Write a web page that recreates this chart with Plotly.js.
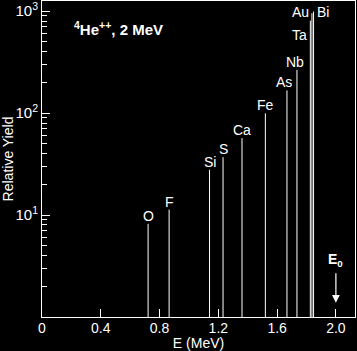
<!DOCTYPE html>
<html>
<head>
<meta charset="utf-8">
<script src="https://cdn.plot.ly/plotly-3.0.1.min.js"></script>
<style>
html,body{margin:0;padding:0;background:#000;}
#chart{width:357px;height:351px;}
</style>
</head>
<body>
<div id="chart"></div>
<script>
// Data
const elements = ["O","F","Si","S","Ca","Fe","As","Nb","Ta","Au","Bi"];
const energies = [0.722,0.865,1.140,1.232,1.361,1.520,1.667,1.735,1.826,1.837,1.848];
const yields   = [8.2,11.3,27.8,37,56.9,99.5,167,266,809,956,991];
const xTickVals = [0,0.4,0.8,1.2,1.6,2.0];
const xTickText = ["0","0.4","0.8","1.2","1.6","2.0"];
const yTickVals = [10,100,1000];
const yTickText = ["10<sup>1</sup>","10<sup>2</sup>","10<sup>3</sup>"];
const beamEnergy = 2.0;

const minorVals = [];
[1,10,100].forEach(d=>{for(let k=2;k<=9;k++){minorVals.push(k*d);}});

const sx=[], sy=[];
energies.forEach((e,i)=>{sx.push(e,e,null); sy.push(1,yields[i],null);});

const trace = {
  x: sx, y: sy, mode:'lines', type:'scatter',
  line:{color:'#fff', width:1}, hoverinfo:'skip', showlegend:false
};

const FAM = '"Liberation Sans", Arial, sans-serif';
const labFont = {family:FAM, size:14, color:'#fff'};
const special = {
  "As":{xshift:-3}, "Nb":{xshift:-2},
  "Ta":{mode:'left', ylog:2.768}, "Au":{mode:'left', ylog:2.993}, "Bi":{mode:'right', ylog:2.993}
};
const annotations = [];
elements.forEach((el,i)=>{
  const sp = special[el] || {};
  if (sp.mode === 'left') {
    annotations.push({x:energies[i], y:sp.ylog, xref:'x', yref:'y', text:el, showarrow:false,
      xanchor:'right', yanchor:'middle', xshift:-1, font:labFont});
  } else if (sp.mode === 'right') {
    annotations.push({x:energies[i], y:sp.ylog, xref:'x', yref:'y', text:el, showarrow:false,
      xanchor:'left', yanchor:'middle', xshift:1, font:labFont});
  } else {
    annotations.push({x:energies[i], y:Math.log10(yields[i]), xref:'x', yref:'y', text:el, showarrow:false,
      xanchor:'center', yanchor:'bottom', xshift:sp.xshift||0, yshift:-2, font:labFont});
  }
});
// title
annotations.push({x:0.205, y:2.83, xref:'x', yref:'y', xanchor:'left', yanchor:'middle',
  text:'<b><sup>4</sup>He<sup>++</sup>, 2 MeV</b>', showarrow:false,
  font:{family:FAM, size:15, color:'#fff'}});
// E0 label and arrow
annotations.push({x:beamEnergy, y:0.562, xref:'x', yref:'y', text:'<b>E<sub>0</sub></b>', showarrow:false,
  xanchor:'center', yanchor:'middle', font:{family:FAM, size:14, color:'#fff'}});
annotations.push({x:beamEnergy, y:0.14, xref:'x', yref:'y', ax:0, ay:-31, text:'', showarrow:true,
  arrowhead:2, arrowsize:1.3, arrowwidth:1.2, arrowcolor:'#fff'});

const shapes = [{type:'line', xref:'x', yref:'y', x0:beamEnergy, x1:beamEnergy, y0:0, y1:0.15,
  line:{color:'#fff', width:1.2}}];

const axFont = {family:FAM, size:14, color:'#fff'};
const layout = {
  width:357, height:351,
  paper_bgcolor:'#000', plot_bgcolor:'#000',
  margin:{l:42, r:2, t:1, b:34},
  font:axFont,
  showlegend:false,
  xaxis:{
    range:[0,2.13], tickmode:'array', tickvals:xTickVals, ticktext:xTickText,
    ticks:'inside', ticklen:8, tickwidth:1, tickcolor:'#fff',
    showline:true, linecolor:'#fff', linewidth:1, mirror:true,
    showgrid:false, zeroline:false, tickfont:axFont, ticklabelstandoff:-2,
    title:{text:'E (MeV)', font:axFont, standoff:0}
  },
  yaxis:{
    type:'log', range:[0,3.1], tickmode:'array', tickvals:yTickVals, ticktext:yTickText,
    ticks:'inside', ticklen:8, tickwidth:1, tickcolor:'#fff',
    minor:{tickmode:'array', tickvals:minorVals, ticks:'inside', ticklen:5, tickwidth:1, tickcolor:'#fff', showgrid:false},
    showline:true, linecolor:'#fff', linewidth:1, mirror:true,
    showgrid:false, zeroline:false, tickfont:{family:FAM, size:15, color:'#fff'},
    title:{text:'Relative Yield', font:axFont, standoff:0}
  },
  annotations:annotations,
  shapes:shapes
};
Plotly.newPlot('chart',[trace],layout,{staticPlot:true, displayModeBar:false});
</script>
</body>
</html>
